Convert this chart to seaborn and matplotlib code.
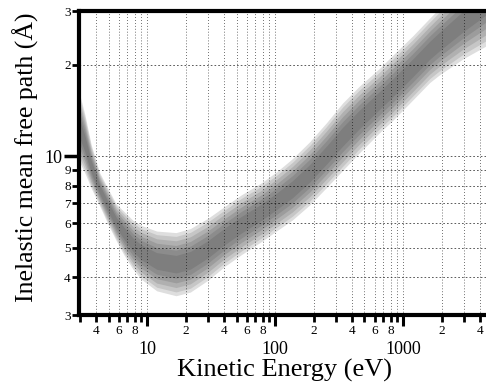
import numpy as np
import pandas as pd
import matplotlib
matplotlib.use("Agg")
import matplotlib.pyplot as plt
from matplotlib.ticker import FixedLocator, FuncFormatter
import seaborn as sns

# ---- data ----
energy = [2.9, 3.3, 3.7, 4.3, 5, 5.8, 6.7, 7.8, 9.1, 12, 17, 22, 30, 41, 55,
          79, 104, 138, 188, 255, 340, 460, 660, 840, 1200, 1630, 1950,
          3000, 4500]
lam_upper = [16.5, 13.4, 10.7, 8.7, 7.7, 6.85, 6.45, 6.05, 5.8, 5.55, 5.48,
             5.65, 6.1, 6.7, 7.3, 8.0, 8.7, 9.6, 10.9, 12.6, 14.6, 16.6,
             19.0, 21.0, 24.3, 27.8, 30.0, 36.0, 43.0]
lam_lower = [10.0, 8.9, 7.9, 6.9, 6.0, 5.3, 4.75, 4.3, 3.98, 3.65, 3.52,
             3.62, 3.95, 4.4, 4.8, 5.3, 5.75, 6.25, 7.0, 8.0, 9.1, 10.4,
             12.1, 13.3, 15.5, 17.7, 18.8, 21.3, 23.5]

x_major = [10, 100, 1000]
x_minor = [3, 4, 5, 6, 7, 8, 9, 20, 30, 40, 50, 60, 70, 80, 90,
           200, 300, 400, 500, 600, 700, 800, 900, 2000, 3000, 4000]
x_minor_labeled = [4, 6, 8, 20, 40, 60, 80, 200, 400, 600, 800, 2000, 4000]
y_major = [10]
y_minor = [3, 4, 5, 6, 7, 8, 9, 20, 30]

xlabel = "Kinetic Energy (eV)"
ylabel = "Inelastic mean free path (Å)"

# ---- style ----
sns.set_theme(style="ticks")
plt.rcParams["font.family"] = ["Liberation Serif", "DejaVu Serif"]
plt.rcParams["text.color"] = "black"
plt.rcParams["axes.labelcolor"] = "black"
plt.rcParams["xtick.color"] = "black"
plt.rcParams["ytick.color"] = "black"

fig = plt.figure(figsize=(4.86, 3.87), dpi=100)
ax = fig.add_axes([79 / 486, 72 / 387, 407 / 486, 304 / 387])
ax.set_xscale("log")
ax.set_yscale("log")

# ---- band (layered, darker toward the centre) ----
lu = np.log10(lam_upper)
ll = np.log10(lam_lower)
cen = (lu + ll) / 2
half = (lu - ll) / 2
layers = [(1.08, "#dedede"), (0.95, "#c6c6c6"), (0.8, "#b0b0b0"),
          (0.64, "#9c9c9c"), (0.48, "#8c8c8c"), (0.3, "#7e7e7e")]
for frac, col in layers:
    lo = 10 ** (cen - frac * half)
    hi = 10 ** (cen + frac * half)
    df = pd.DataFrame({"E": list(energy) * 2, "lam": list(lo) + list(hi)})
    sns.lineplot(data=df, x="E", y="lam", estimator="mean", errorbar=("pi", 100),
                 color=col, linewidth=0, ax=ax,
                 err_kws=dict(alpha=1.0, linewidth=0, edgecolor="none"))

ax.set_xlim(2.94, 4450)
ax.set_ylim(3, 30)

# ---- ticks ----
ax.xaxis.set_major_locator(FixedLocator(x_major))
ax.xaxis.set_minor_locator(FixedLocator(x_minor))
ax.xaxis.set_major_formatter(FuncFormatter(lambda v, p: f"{v:g}"))
ax.xaxis.set_minor_formatter(FuncFormatter(
    lambda v, p: (f"{v:g}"[0] if any(abs(v - m) < 1e-6 for m in x_minor_labeled) else "")))
ax.yaxis.set_major_locator(FixedLocator(y_major))
ax.yaxis.set_minor_locator(FixedLocator(y_minor))
ax.yaxis.set_major_formatter(FuncFormatter(lambda v, p: f"{v:g}"))
ax.yaxis.set_minor_formatter(FuncFormatter(lambda v, p: f"{v:g}"[0]))

ax.tick_params(axis="x", which="major", direction="out", length=8, width=2.2,
               pad=11, labelsize=13)
ax.tick_params(axis="x", which="minor", direction="out", length=5, width=2,
               pad=2.5, labelsize=9.5)
ax.tick_params(axis="y", which="major", direction="out", length=11, width=2.5,
               pad=1, labelsize=13)
ax.tick_params(axis="y", which="minor", direction="out", length=5, width=2,
               pad=1, labelsize=9.5)

# ---- grid ----
ax.set_axisbelow(False)
ax.grid(which="both", axis="x", color="black", linewidth=0.6,
        linestyle=(0, (1, 2.5)), alpha=0.75)
ax.grid(which="both", axis="y", color="black", linewidth=0.6,
        linestyle=(0, (2, 2.5)), alpha=0.75)

# ---- spines ----
for s in ["left", "bottom", "top"]:
    ax.spines[s].set_linewidth(3)
    ax.spines[s].set_color("black")
ax.spines["right"].set_visible(False)

ax.set_xlabel(xlabel, fontsize=19)
ax.set_ylabel(ylabel, fontsize=18.5)
ax.xaxis.set_label_coords(0.505, -0.145)
ax.yaxis.set_label_coords(-0.098, 0.52)

fig.savefig("out.png", dpi=100)
